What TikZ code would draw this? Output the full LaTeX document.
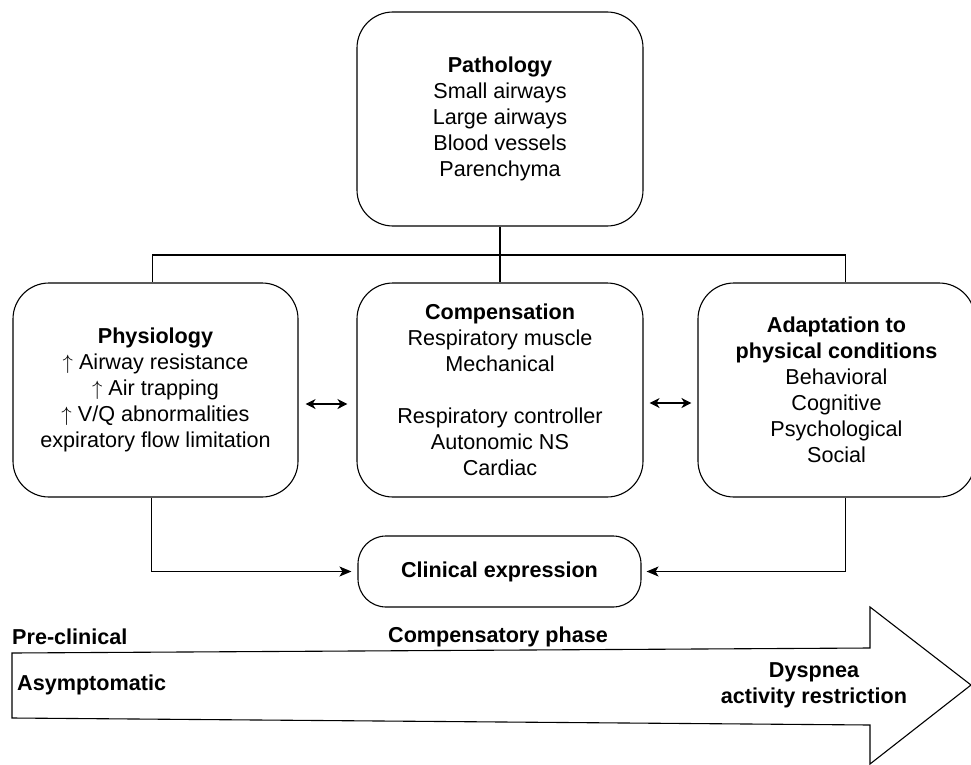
\documentclass[tikz,border=0pt]{standalone}
\usepackage{fontspec}
\setmainfont{Liberation Sans}
\usepackage{tikz}
\usetikzlibrary{arrows.meta}
\newcommand{\fs}{\fontsize{21.6}{26}\selectfont}
\tikzset{
  card/.style     = {draw=black, line width=1.1pt, rounded corners=36pt, align=center,
                     inner sep=0pt, minimum height=214pt, font=\fs},
  pill/.style     = {card, rounded corners=28pt, minimum height=71pt},
  link/.style     = {draw=black, line width=1.1pt},
  flow/.style     = {link, -{Stealth[length=12pt,width=10pt,inset=3pt]}},
  swap/.style     = {link, {Stealth[length=10pt,width=10pt,inset=3pt]}-{Stealth[length=10pt,width=10pt,inset=3pt]}},
  phase/.style    = {font=\fs\bfseries, inner sep=0pt, align=center},
  timeline/.style = {draw=black, line width=1.1pt, fill=white}
}
\begin{document}
\begin{tikzpicture}[x={(1pt,0pt)}, y={(0pt,-1pt)}]
  \useasboundingbox (0,0) rectangle (971,765);

  % Stages of disease (big arrow)
  \draw[timeline] (12,653) -- (870,648) -- (870,607) -- (971,685) -- (870,764)
    -- (870,725) -- (12,718) -- cycle;
  \node[phase, anchor=west] (preclin) at (12,637) {Pre-clinical};
  \node[phase] (compphase) at (498,637) {Compensatory phase};
  \node[phase, anchor=west] (asympt) at (17,685) {Asymptomatic};
  \node[phase] (dyspnea) at (814,685) {Dyspnea\\activity restriction};

  % Boxes
  \node[card, minimum width=286pt] (patho) at (500,119)
    {\textbf{Pathology}\\Small airways\\Large airways\\Blood vessels\\Parenchyma};
  \node[card, minimum width=285pt] (physio) at (155.5,390)
    {\textbf{Physiology}\\$\uparrow$ Airway resistance\\$\uparrow$ Air trapping\\$\uparrow$ V/Q abnormalities\\expiratory flow limitation};
  \node[card, minimum width=286pt] (compens) at (500,390)
    {\textbf{Compensation}\\Respiratory muscle\\Mechanical\\[26pt]Respiratory controller\\Autonomic NS\\Cardiac};
  \node[card, minimum width=277pt] (adapt) at (836.5,390)
    {\textbf{Adaptation to}\\\textbf{physical conditions}\\Behavioral\\Cognitive\\Psychological\\Social};
  \node[pill, minimum width=283pt] (clinical) at (499.5,571.5)
    {\textbf{Clinical expression}};

  % Tree from pathology
  \coordinate (split) at (500,255);
  \draw[link] (patho.south) -- (split);
  \draw[link] (split) -- (compens.north);
  \draw[link] (split) -| ([xshift=-3pt]physio.north);
  \draw[link] (split) -| ([xshift=9pt]adapt.north);

  % Interactions
  \draw[swap, shorten <=7pt, shorten >=9pt] ([yshift=-14pt]physio.east) -- ([yshift=-14pt]compens.west);
  \draw[swap, shorten <=6pt, shorten >=6pt] ([yshift=-13pt]compens.east) -- ([yshift=-13pt]adapt.west);

  % Into clinical expression
  \draw[flow, shorten >=6pt] ([xshift=-4pt]physio.south) |- (clinical.west);
  \draw[flow, shorten >=5pt] ([xshift=9pt]adapt.south) |- (clinical.east);
\end{tikzpicture}
\end{document}
